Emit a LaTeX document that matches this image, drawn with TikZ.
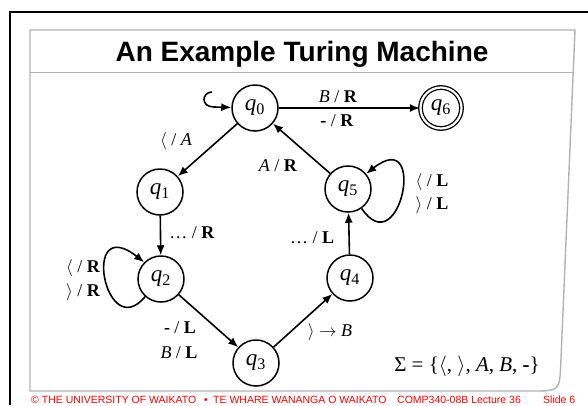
\documentclass[tikz,border=0pt]{standalone}
\usepackage{fontspec}
\setmainfont{Liberation Serif}
\newfontfamily\headfont{Liberation Sans}
\usetikzlibrary{arrows.meta,positioning,calc}

\begin{document}
\begin{tikzpicture}[
    x=1pt, y=-1pt,
    every node/.style={align=center},
    state/.style={
        circle, draw, line width=1.5pt, minimum size=46pt, inner sep=0pt,
        font=\fontsize{23}{23}\selectfont\itshape
    },
    accept/.style={
        state, double, double distance=2.2pt, line width=1.3pt,
        minimum size=41pt
    },
    trans/.style={font=\fontsize{18}{18}\selectfont},
    arrow/.style={-{Latex[length=10pt,width=8pt]}, line width=1.6pt},
    frame/.style={draw=black!30, line width=1.4pt},
    footer/.style={
        text=red, anchor=base west, inner sep=0pt,
        font=\headfont\fontsize{10.5}{10.5}\selectfont
    }
]
\useasboundingbox (0,0) rectangle (588,405);

% slide frame
\draw[line width=2pt] (10,405) -- (10,12) -- (588,12);
\draw[frame] (30,30) -- (575,30) -- (560.8,363)
    .. controls (559.6,391) .. (532,391) -- (30,391) -- cycle;
\draw[frame] (30,72.5) -- (573.2,72.5);
\node[font=\headfont\bfseries\fontsize{28}{28}\selectfont, anchor=base]
    (title) at (302,61) {An Example Turing Machine};

% states
\node[state] (q0) at (255,108) {q\textsubscript{\upshape 0}};
\node[accept] (q6) at (441,108) {q\textsubscript{\upshape 6}};
\node[state] (q1) at (160,192) {q\textsubscript{\upshape 1}};
\node[state] (q2) at (161,279) {q\textsubscript{\upshape 2}};
\node[state] (q3) at (256,363) {q\textsubscript{\upshape 3}};
\node[state] (q4) at (350,278) {q\textsubscript{\upshape 4}};
\node[state] (q5) at (348,189) {q\textsubscript{\upshape 5}};

% transitions
\draw[arrow] (q0) -- (q6);
\draw[arrow] (q0) -- (q1);
\draw[arrow] (q1) -- (q2);
\draw[arrow] (q2) -- (q3);
\draw[arrow] (q3) -- (q4);
\draw[arrow] (q4) -- (q5);
\draw[arrow] (q5) -- (q0);

% loops
\coordinate (hook) at (212,92);
\draw[arrow] (hook) .. controls (202,92) and (200,107) .. (214,107) -- (q0);
\draw[arrow] (q5.-55) .. controls (400,265) and (428,125) .. (q5.40);
\draw[arrow] (q2.228) .. controls (105,345) and (80,212) .. (q2.135);

% labels
\node[trans] (l06a) at (338,97) {\textit{B} / \textbf{R}};
\node[trans] (l06b) at (337,121) {\textbf{-} / \textbf{R}};
\node[trans] (l01) at (176,141) {$\langle$ / \textit{A}};
\node[trans] (l50) at (278,166) {\textit{A} / \textbf{R}};
\node[trans] (l55a) at (432,182) {$\langle$ / \textbf{L}};
\node[trans] (l55b) at (432,205) {$\rangle$ / \textbf{L}};
\node[trans] (l12) at (192,233) {\dots\ / \textbf{R}};
\node[trans] (l45) at (312,238) {\dots\ / \textbf{L}};
\node[trans] (l22a) at (83,268) {$\langle$ / \textbf{R}};
\node[trans] (l22b) at (83,292) {$\rangle$ / \textbf{R}};
\node[trans] (l23a) at (180,328) {\textbf{-} / \textbf{L}};
\node[trans] (l23b) at (179,353) {\textit{B} / \textbf{L}};
\node[trans] (l34) at (330,332) {$\rangle\rightarrow$ \textit{B}};
\node[font=\fontsize{21}{21}\selectfont] (sigma) at (467,366)
    {Σ = \{$\langle$, $\rangle$, \textit{A}, \textit{B}, \textbf{-}\}};

% footer
\node[footer] (uni) at (31,403.5) {© THE UNIVERSITY OF WAIKATO};
\node[footer] (dot) at (204,403.5) {•};
\node[footer] (maori) at (213,403.5) {TE WHARE WANANGA O WAIKATO};
\node[footer] (course) at (397,403.5) {COMP340-08B Lecture 36};
\node[footer] (slide) at (543,403.5) {Slide 6};
\end{tikzpicture}
\end{document}
